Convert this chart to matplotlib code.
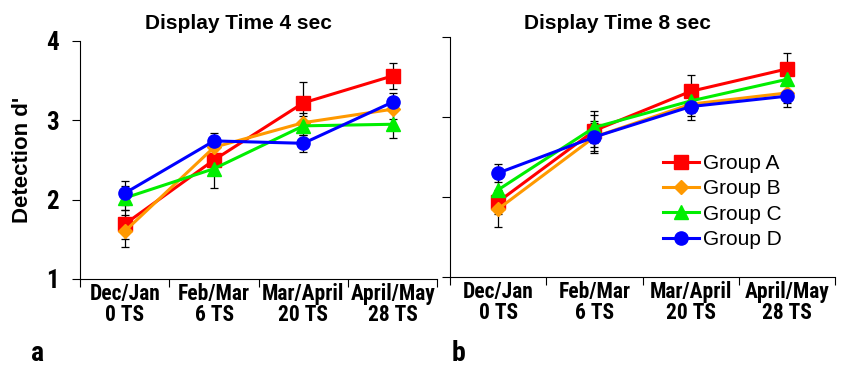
import numpy as np
import matplotlib
matplotlib.use('Agg')
from matplotlib import pyplot as plt
from matplotlib import font_manager

# data
periods = ['Dec/Jan\n0 TS', 'Feb/Mar\n6 TS', 'Mar/April\n20 TS', 'April/May\n28 TS']
groups = ['Group A', 'Group B', 'Group C', 'Group D']

# display time 4 sec
d4_A = [1.69, 2.50, 3.22, 3.56]
d4_B = [1.60, 2.66, 2.97, 3.14]
d4_C = [2.02, 2.39, 2.93, 2.95]
d4_D = [2.08, 2.74, 2.71, 3.23]
e4_A = [0.18, 0.15, 0.26, 0.16]
e4_B = [0.20, 0.12, 0.12, 0.12]
e4_C = [0.15, 0.24, 0.12, 0.17]
e4_D = [0.15, 0.10, 0.11, 0.11]

# display time 8 sec
d8_A = [1.94, 2.83, 3.32, 3.60]
d8_B = [1.85, 2.75, 3.16, 3.30]
d8_C = [2.09, 2.87, 3.20, 3.47]
d8_D = [2.30, 2.75, 3.13, 3.26]
e8_A = [0.15, 0.20, 0.20, 0.20]
e8_B = [0.22, 0.20, 0.15, 0.12]
e8_C = [0.15, 0.20, 0.15, 0.15]
e8_D = [0.11, 0.18, 0.17, 0.14]

colors = ['#ff0000', '#ff9900', '#00ee00', '#0000ff']
markers = ['s', 'D', '^', 'o']
msizes = [9.5, 7.5, 10, 9.5]

plt.rcParams['font.family'] = ['Liberation Sans', 'DejaVu Sans']

# narrow bold face for ticks, like Arial Narrow in the original
installed = set(f.name for f in font_manager.fontManager.ttflist)
narrow = 'Liberation Sans'
for cand in ['Liberation Sans Narrow', 'Arial Narrow', 'Roboto Condensed',
             'Archivo Narrow', 'PT Sans Narrow', 'Open Sans Condensed']:
    if cand in installed:
        narrow = cand
        break

fig = plt.figure(figsize=(8.41, 3.69), dpi=100)
ax1 = fig.add_axes([0.0951, 0.244, 0.425, 0.645])
ax2 = fig.add_axes([0.535, 0.249, 0.458, 0.651])

x = np.arange(len(periods)) + 0.5


def panel(ax, vals, errs, title, ylabels, tx, tpad):
    for i in range(len(groups)):
        ax.errorbar(x, vals[i], yerr=errs[i], fmt='none', ecolor='black',
                    elinewidth=0.9, capsize=3, capthick=0.9, zorder=2)
    for i in range(len(groups)):
        ax.plot(x, vals[i], color=colors[i], marker=markers[i], markersize=msizes[i],
                linewidth=2.2, label=groups[i], zorder=3)
    ax.set_xlim(0, 4)
    ax.set_ylim(1, 4)
    ax.set_yticks([1, 2, 3, 4])
    ax.set_xticks([0, 1, 2, 3, 4])
    ax.set_xticklabels([])
    ax.set_xticks(x, minor=True)
    ax.set_xticklabels(periods, minor=True, fontsize=15.5, fontweight='bold',
                       family=narrow, linespacing=0.95)
    ax.tick_params(axis='x', which='major', length=6, width=0.8)
    ax.tick_params(axis='x', which='minor', length=0, pad=3)
    ax.tick_params(axis='y', length=6, width=0.8, pad=9)
    if ylabels:
        ax.set_yticklabels(['1', '2', '3', '4'], fontsize=18, fontweight='bold', family=narrow)
    else:
        ax.set_yticklabels([])
    ax.spines['top'].set_visible(False)
    ax.spines['right'].set_visible(False)
    ax.set_title(title, fontsize=15, fontweight='bold', pad=tpad, x=tx)


panel(ax1, [d4_A, d4_B, d4_C, d4_D], [e4_A, e4_B, e4_C, e4_D], 'Display Time 4 sec', True, 0.443, 8.6)
panel(ax2, [d8_A, d8_B, d8_C, d8_D], [e8_A, e8_B, e8_C, e8_D], 'Display Time 8 sec', False, 0.436, 5.8)
ax1.set_ylabel("Detection d'", fontsize=16, fontweight='bold')
ax1.yaxis.set_label_coords(-0.132, 0.5)

ax2.legend(loc='center left', bbox_to_anchor=(0.553, 0.315), frameon=False, fontsize=15,
           handlelength=1.73, labelspacing=0.3, borderpad=0, borderaxespad=0,
           handletextpad=0.2)

fig.text(0.037, 0.022, 'a', fontsize=20, fontweight='bold', family=narrow)
fig.text(0.537, 0.022, 'b', fontsize=20, fontweight='bold', family=narrow)

fig.savefig('out.png', dpi=100)
